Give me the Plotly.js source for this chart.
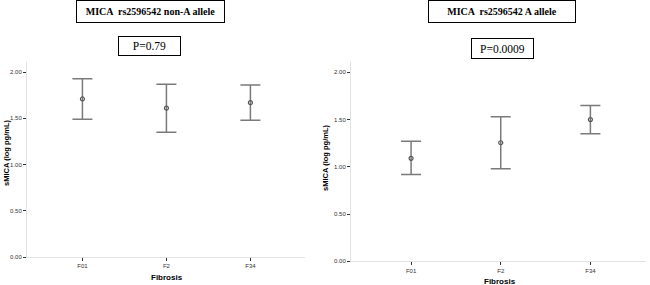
<!DOCTYPE html>
<html>
<head>
<meta charset="utf-8">
<script src="https://cdn.plot.ly/plotly-3.0.1.min.js"></script>
<style>html,body{margin:0;padding:0;background:#fff;}#chart{width:650px;height:285px;}</style>
</head>
<body>
<div id="chart"></div>
<script>
const categories = ['F01', 'F2', 'F34'];
const nonAMean = [1.71, 1.61, 1.67];
const nonAUpper = [1.93, 1.87, 1.86];
const nonALower = [1.49, 1.35, 1.48];
const aMean = [1.09, 1.255, 1.50];
const aUpper = [1.27, 1.53, 1.65];
const aLower = [0.92, 0.98, 1.35];
const yTicks = [0, 0.5, 1, 1.5, 2];
const yTickText = ['0.00', '0.50', '1.00', '1.50', '2.00'];

const W = 650, H = 285;
function px(x) { return x / W; }
function py(y) { return 1 - y / H; }

function trace(mean, upper, lower, xa, ya) {
  return {
    type: 'scatter', mode: 'markers', x: categories, y: mean, xaxis: xa, yaxis: ya,
    marker: {symbol: 'circle-open', size: 4, color: '#555', line: {width: 1.2, color: '#555'}},
    error_y: {type: 'data', symmetric: false,
      array: upper.map((u, i) => u - mean[i]),
      arrayminus: lower.map((l, i) => mean[i] - l),
      color: '#7a7a7a', thickness: 1.5, width: 10},
    showlegend: false, hoverinfo: 'skip'
  };
}

const tickFont = {family: 'Liberation Sans, Arial', size: 6, color: '#333'};
function yaxis(domain) {
  return {domain: domain, range: [0, 2.11], tickvals: yTicks, ticktext: yTickText,
    showline: true, linecolor: '#e2e2e2', linewidth: 1, showgrid: false, zeroline: false,
    ticks: 'outside', ticklen: 3, tickwidth: 1, tickcolor: '#333', tickfont: tickFont, ticklabelstandoff: 0};
}
function xaxis(domain, anchor, range) {
  return {domain: domain, anchor: anchor, range: range, type: 'category',
    showline: true, linecolor: '#e2e2e2', linewidth: 1, showgrid: false, zeroline: false,
    ticks: 'outside', ticklen: 3, tickwidth: 1, tickcolor: '#333', tickfont: tickFont};
}

const layout = {
  width: W, height: H, margin: {l: 0, r: 0, t: 0, b: 0},
  paper_bgcolor: '#fff', plot_bgcolor: '#fff',
  xaxis: xaxis([px(27), px(305)], 'y', [-0.66, 2.65]),
  yaxis: Object.assign(yaxis([py(257), py(62)]), {anchor: 'x'}),
  xaxis2: xaxis([px(351), px(646)], 'y2', [-0.67, 2.62]),
  yaxis2: Object.assign(yaxis([py(261.3), py(62)]), {anchor: 'x2'}),
  annotations: [
    {text: '<b>MICA  rs2596542 non-A allele</b>', xref: 'paper', yref: 'paper', x: px(150.5), y: py(11.5),
     xanchor: 'center', yanchor: 'middle', showarrow: false, width: 147, height: 21,
     bordercolor: '#000', borderwidth: 1, borderpad: 0, bgcolor: '#fff',
     font: {family: 'Liberation Serif, Times New Roman', size: 10, color: '#000'}},
    {text: 'P=0.79', xref: 'paper', yref: 'paper', x: px(149.5), y: py(46),
     xanchor: 'center', yanchor: 'middle', showarrow: false, width: 61, height: 18,
     bordercolor: '#000', borderwidth: 1, borderpad: 0, bgcolor: '#fff',
     font: {family: 'Liberation Serif, Times New Roman', size: 11.5, color: '#000'}},
    {text: '<b>MICA  rs2596542 A allele</b>', xref: 'paper', yref: 'paper', x: px(502), y: py(11.5),
     xanchor: 'center', yanchor: 'middle', showarrow: false, width: 146, height: 21,
     bordercolor: '#000', borderwidth: 1, borderpad: 0, bgcolor: '#fff',
     font: {family: 'Liberation Serif, Times New Roman', size: 10, color: '#000'}},
    {text: 'P=0.0009', xref: 'paper', yref: 'paper', x: px(502.3), y: py(48.5),
     xanchor: 'center', yanchor: 'middle', showarrow: false, width: 61, height: 19,
     bordercolor: '#000', borderwidth: 1, borderpad: 0, bgcolor: '#fff',
     font: {family: 'Liberation Serif, Times New Roman', size: 11.5, color: '#000'}},
    {text: '<b>sMICA (log pg/mL)</b>', xref: 'paper', yref: 'paper', x: px(6), y: py(153),
     xanchor: 'center', yanchor: 'middle', showarrow: false, textangle: -90,
     font: {family: 'Liberation Sans, Arial', size: 7.5, color: '#000'}},
    {text: '<b>sMICA (log pg/mL)</b>', xref: 'paper', yref: 'paper', x: px(326), y: py(158),
     xanchor: 'center', yanchor: 'middle', showarrow: false, textangle: -90,
     font: {family: 'Liberation Sans, Arial', size: 7.5, color: '#000'}},
    {text: '<b>Fibrosis</b>', xref: 'paper', yref: 'paper', x: px(166.7), y: py(277.7),
     xanchor: 'center', yanchor: 'middle', showarrow: false,
     font: {family: 'Liberation Sans, Arial', size: 8, color: '#000'}},
    {text: '<b>Fibrosis</b>', xref: 'paper', yref: 'paper', x: px(500), y: py(281.7),
     xanchor: 'center', yanchor: 'middle', showarrow: false,
     font: {family: 'Liberation Sans, Arial', size: 8, color: '#000'}}
  ]
};

Plotly.newPlot('chart', [
  trace(nonAMean, nonAUpper, nonALower, 'x', 'y'),
  trace(aMean, aUpper, aLower, 'x2', 'y2')
], layout, {displayModeBar: false, staticPlot: true});
</script>
</body>
</html>
